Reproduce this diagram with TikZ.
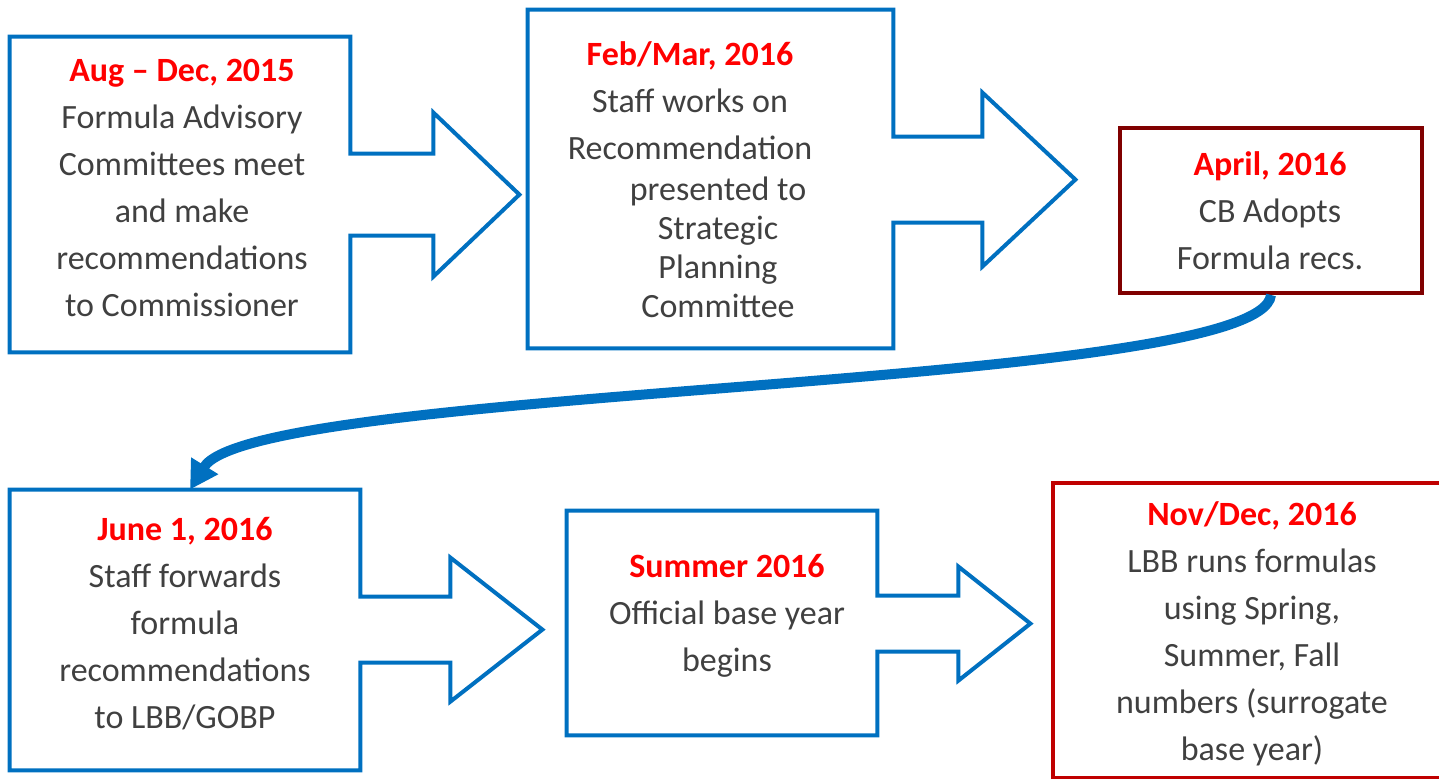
\documentclass[tikz,border=0pt]{standalone}
\usepackage{fontspec}
\setmainfont{Carlito}
\usetikzlibrary{arrows.meta}

\definecolor{flowblue}{RGB}{0,112,192}
\definecolor{datered}{RGB}{255,0,0}
\definecolor{darkbox}{RGB}{128,0,0}
\definecolor{redbox}{RGB}{192,0,0}
\definecolor{bodygray}{RGB}{64,64,64}

\newcommand{\when}[1]{\textcolor{datered}{\bfseries #1}}

\begin{document}
\begin{tikzpicture}[x=0.5pt,y=-0.5pt,
    box/.style={shape=rectangle,inner sep=0pt},
    callout/.style={draw=flowblue,line width=2pt,line join=miter},
    txt/.style={align=center,text=bodygray,inner sep=0pt,font=\fontsize{17}{23.5}\selectfont}]
    \useasboundingbox (0,0) rectangle (1439,779);

    % boxes
    \node[box,minimum width=170pt,minimum height=157.5pt] (aug) at (180,194.5) {};
    \node[box,minimum width=182.5pt,minimum height=169pt] (feb) at (710.5,179) {};
    \node[box,draw=darkbox,line width=2pt,minimum width=151pt,minimum height=82.5pt] (cb) at (1271,210.5) {};
    \node[box,minimum width=175pt,minimum height=140pt] (june) at (185,630) {};
    \node[box,minimum width=155pt,minimum height=112pt] (summer) at (722,623) {};
    \node[box,draw=redbox,line width=2pt,minimum width=199pt,minimum height=147.5pt] (nov) at (1252,630.5) {};

    % callout outlines
    \draw[callout] (aug.north west) -- (aug.north east) -- ++(0,117) -- ++(83,0) -- ++(0,-41)
        -- ++(86,82) -- ++(-86,82) -- ++(0,-41) -- ++(-83,0) -- (aug.south east) -- (aug.south west) -- cycle;
    \draw[callout] (feb.north west) -- (feb.north east) -- ++(0,127) -- ++(89,0) -- ++(0,-44)
        -- ++(93,87) -- ++(-93,87) -- ++(0,-44) -- ++(-89,0) -- (feb.south east) -- (feb.south west) -- cycle;
    \draw[callout] (june.north west) -- (june.north east) -- ++(0,107) -- ++(90,0) -- ++(0,-39)
        -- ++(92,72) -- ++(-92,72) -- ++(0,-39) -- ++(-90,0) -- (june.south east) -- (june.south west) -- cycle;
    \draw[callout] (summer.north west) -- (summer.north east) -- ++(0,85) -- ++(81,0) -- ++(0,-29)
        -- ++(72,57) -- ++(-72,57) -- ++(0,-29) -- ++(-81,0) -- (summer.south east) -- (summer.south west) -- cycle;

    % texts
    \node[txt] (augtxt) at (182,188) {\when{Aug – Dec, 2015}\\Formula Advisory\\Committees meet\\and make\\recommendations\\to Commissioner};
    \node[txt] (febtxt) at (690,101) {\when{Feb/Mar, 2016}\\Staff works on\\Recommendation};
    \node[txt,font=\fontsize{17}{19.5}\selectfont] (febnote) at (718,247) {presented to\\Strategic\\Planning\\Committee};
    \node[txt] (cbtxt) at (1270,211) {\when{April, 2016}\\CB Adopts\\Formula recs.};
    \node[txt] (junetxt) at (185,624) {\when{June 1, 2016}\\Staff forwards\\formula\\recommendations\\to LBB/GOBP};
    \node[txt] (sumtxt) at (727,616) {\when{Summer 2016}\\Official base year\\begins};
    \node[txt] (novtxt) at (1252,634) {\when{Nov/Dec, 2016}\\LBB runs formulas\\using Spring,\\Summer, Fall\\numbers (surrogate\\base year)};

    % link between the two rows
    \draw[flowblue,line width=5pt,-{Triangle[length=14pt,width=15pt]}]
        (cb.south) .. controls +(-10,95) and +(65,-105) .. ([xshift=2.5pt]june.north);
\end{tikzpicture}
\end{document}
